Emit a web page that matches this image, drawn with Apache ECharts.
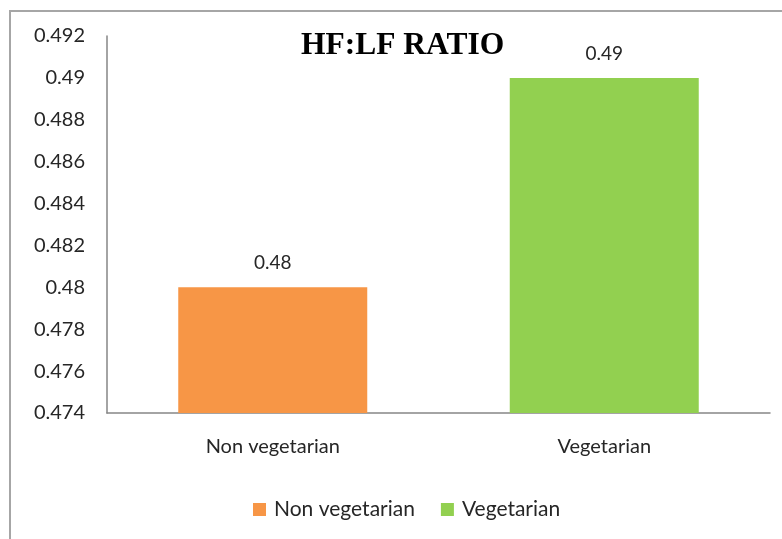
<!DOCTYPE html>
<html>
<head>
<meta charset="utf-8">
<script src="https://cdn.jsdelivr.net/npm/echarts@6/dist/echarts.min.js"></script>
<style>
  html, body { margin: 0; padding: 0; background: #fff; }
  #chart { width: 782px; height: 539px; }
</style>
</head>
<body>
<div id="chart"></div>
<script>
const categories = ['Non vegetarian', 'Vegetarian'];
const nonVegValues = [0.48, '-'];
const vegValues = ['-', 0.49];
const seriesNames = ['Non vegetarian', 'Vegetarian'];
const seriesColors = ['#F79646', '#92D050'];

const chart = echarts.init(document.getElementById('chart'), null, { renderer: 'canvas' });

const textFont = 'Lato, "Open Sans", sans-serif';
const textColor = '#262626';

function makeSeries(name, data, color) {
  return {
    name: name,
    type: 'bar',
    data: data,
    barWidth: 189,
    barGap: '-100%',
    itemStyle: { color: color },
    label: {
      show: true,
      position: 'top',
      distance: 15,
      fontFamily: textFont,
      fontSize: 19,
      color: textColor
    }
  };
}

chart.setOption({
  backgroundColor: '#fff',
  animation: false,
  graphic: [{
    type: 'rect',
    shape: { x: 10, y: 11, width: 820, height: 620 },
    style: { fill: 'none', stroke: '#a6a6a6', lineWidth: 2 },
    silent: true
  }],
  title: {
    text: 'HF:LF RATIO',
    left: 301,
    top: 30,
    padding: 0,
    textStyle: {
      fontFamily: '"Liberation Serif", "DejaVu Serif", serif',
      fontWeight: 'bold',
      fontSize: 31.5,
      color: '#000'
    }
  },
  legend: {
    data: seriesNames,
    left: 253,
    top: 499,
    padding: 0,
    itemWidth: 13,
    itemHeight: 13,
    itemGap: 26,
    icon: 'rect',
    textStyle: { fontFamily: textFont, fontSize: 21, color: textColor, padding: [0, 0, 0, 3] }
  },
  grid: { left: 107, right: 12, top: 36, bottom: 126 },
  xAxis: {
    type: 'category',
    data: categories,
    axisLine: { lineStyle: { color: '#868686', width: 1.5 } },
    axisTick: { show: false },
    axisLabel: { fontFamily: textFont, fontSize: 20, color: textColor, margin: 24 }
  },
  yAxis: {
    type: 'value',
    min: 0.474,
    max: 0.492,
    interval: 0.002,
    axisLine: { show: true, lineStyle: { color: '#868686', width: 1.5 } },
    axisTick: { show: false },
    splitLine: { show: false },
    axisLabel: {
      fontFamily: textFont,
      fontSize: 20,
      color: textColor,
      margin: 22,
      formatter: v => String(+v.toFixed(3))
    }
  },
  series: [
    makeSeries(seriesNames[0], nonVegValues, seriesColors[0]),
    makeSeries(seriesNames[1], vegValues, seriesColors[1])
  ]
});
</script>
</body>
</html>
